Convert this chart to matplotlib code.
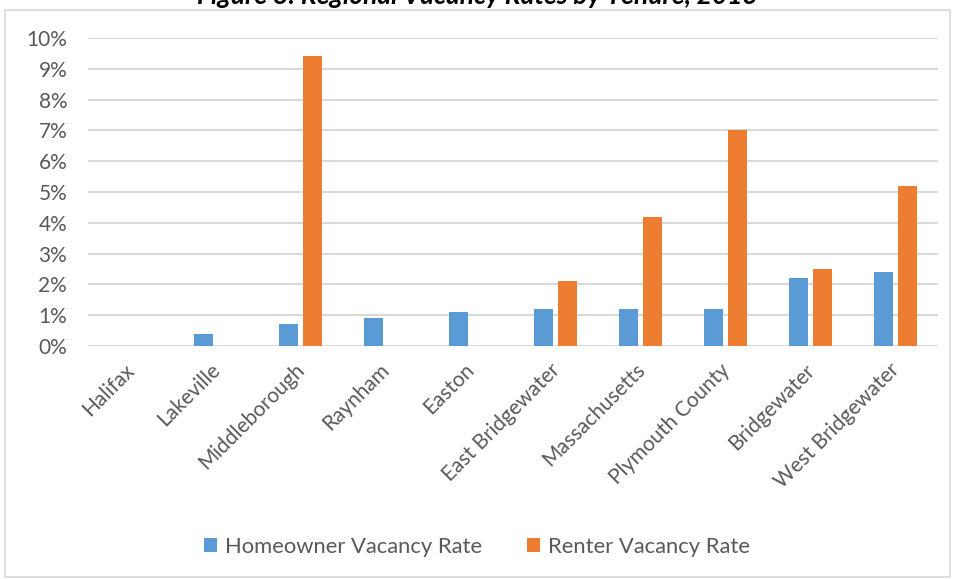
import numpy as np
import matplotlib.pyplot as plt
import matplotlib.transforms as mtransforms
from matplotlib.patches import Rectangle
from matplotlib.ticker import FuncFormatter

places = ['Halifax', 'Lakeville', 'Middleborough', 'Raynham', 'Easton',
          'East Bridgewater', 'Massachusetts', 'Plymouth County',
          'Bridgewater', 'West Bridgewater']
homeowner = [0.0, 0.4, 0.7, 0.9, 1.1, 1.2, 1.2, 1.2, 2.2, 2.4]
renter = [0.0, 0.0, 9.4, 0.0, 0.0, 2.1, 4.2, 7.0, 2.5, 5.2]

BLUE = '#5b9bd5'
ORANGE = '#ed7d31'
GRID = '#d9d9d9'
TXT = '#595959'

plt.rcParams['font.family'] = ['Lato', 'DejaVu Sans']

fig = plt.figure(figsize=(9.54, 5.79), dpi=100)
ax = fig.add_axes([88 / 954, 1 - 346 / 579, 850 / 954, 308 / 579])

# chart frame
fig.patches.append(Rectangle((5 / 954, 2 / 579), 945 / 954, 567 / 579,
                             transform=fig.transFigure, fill=False,
                             edgecolor=GRID, linewidth=1.2))

x = np.arange(len(places))
w = 0.22
off = 0.141
ax.bar(x - off, homeowner, w, color=BLUE, label='Homeowner Vacancy Rate', zorder=3)
ax.bar(x + off, renter, w, color=ORANGE, label='Renter Vacancy Rate', zorder=3)

ax.set_xlim(-0.5, len(places) - 0.5)
ax.set_ylim(0, 10)
ax.set_yticks(range(0, 11))
ax.yaxis.set_major_formatter(FuncFormatter(lambda v, p: f'{v:.0f}%'))
ax.grid(axis='y', color=GRID, linewidth=1.5, zorder=0)
for s in ax.spines.values():
    s.set_visible(False)
ax.tick_params(axis='both', length=0, colors=TXT, labelsize=15)
ax.tick_params(axis='y', pad=15)
ax.set_xticks(x)
ax.set_xticklabels(places, rotation=45, ha='right', rotation_mode='anchor')
ax.tick_params(axis='x', pad=10)
shift = mtransforms.ScaledTranslation(-6 / 100, 0, fig.dpi_scale_trans)
for lbl in ax.get_xticklabels():
    lbl.set_transform(lbl.get_transform() + shift)

# title runs off the top edge, as in the source
fig.text(0.5, 1 - 4 / 579, 'Figure 8: Regional Vacancy Rates by Tenure, 2013',
         ha='center', va='baseline', fontsize=19, fontweight='bold',
         style='italic', color='black')

fig.legend(loc='center', bbox_to_anchor=(0.5, 1 - 547 / 579), ncol=2,
           frameon=False, fontsize=15.8, labelcolor=TXT, handlelength=0.6,
           handleheight=0.6, handletextpad=0.4, columnspacing=2.0)

fig.savefig('out.png', dpi=100)
